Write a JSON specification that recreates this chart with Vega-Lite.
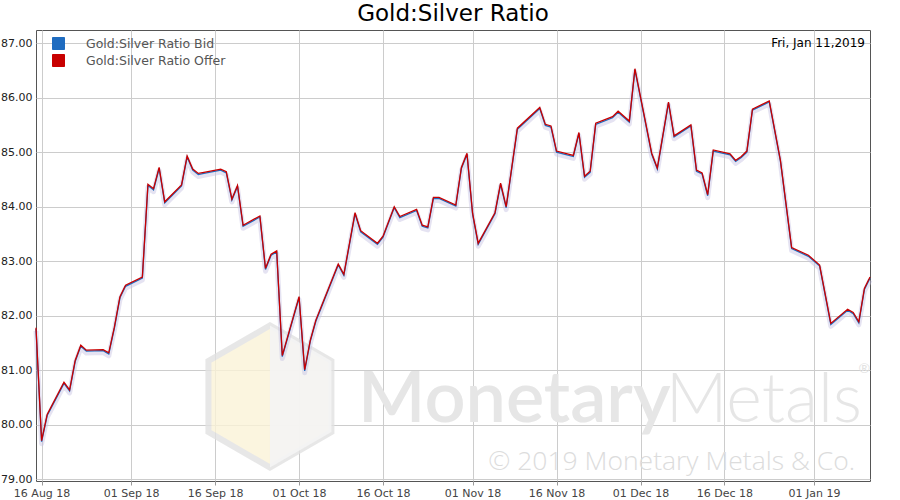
{
  "$schema": "https://vega.github.io/schema/vega-lite/v6.json",
  "width": 834,
  "height": 451,
  "autosize": {"type": "none"},
  "padding": {"left": 36, "top": 30, "right": 30, "bottom": 19},
  "background": "white",
  "title": {"text": "Gold:Silver Ratio", "fontSize": 23, "font": "DejaVu Sans", "fontWeight": "normal", "color": "#000000", "anchor": "middle", "offset": 4},
  "config": {"view": {"stroke": "#555555", "strokeWidth": 1}, "font": "DejaVu Sans"},
  "data": {"values": [
    {"date": "2018-08-15", "Bid": 81.76, "Offer": 81.78},
    {"date": "2018-08-16", "Bid": 79.69, "Offer": 79.71},
    {"date": "2018-08-17", "Bid": 80.17, "Offer": 80.19},
    {"date": "2018-08-20", "Bid": 80.76, "Offer": 80.78},
    {"date": "2018-08-21", "Bid": 80.62, "Offer": 80.64},
    {"date": "2018-08-22", "Bid": 81.16, "Offer": 81.18},
    {"date": "2018-08-23", "Bid": 81.44, "Offer": 81.46},
    {"date": "2018-08-24", "Bid": 81.35, "Offer": 81.37},
    {"date": "2018-08-27", "Bid": 81.36, "Offer": 81.38},
    {"date": "2018-08-28", "Bid": 81.30, "Offer": 81.32},
    {"date": "2018-08-29", "Bid": 81.77, "Offer": 81.79},
    {"date": "2018-08-30", "Bid": 82.33, "Offer": 82.35},
    {"date": "2018-08-31", "Bid": 82.54, "Offer": 82.56},
    {"date": "2018-09-03", "Bid": 82.69, "Offer": 82.71},
    {"date": "2018-09-04", "Bid": 84.39, "Offer": 84.41},
    {"date": "2018-09-05", "Bid": 84.31, "Offer": 84.33},
    {"date": "2018-09-06", "Bid": 84.70, "Offer": 84.72},
    {"date": "2018-09-07", "Bid": 84.07, "Offer": 84.09},
    {"date": "2018-09-10", "Bid": 84.38, "Offer": 84.40},
    {"date": "2018-09-11", "Bid": 84.91, "Offer": 84.93},
    {"date": "2018-09-12", "Bid": 84.67, "Offer": 84.69},
    {"date": "2018-09-13", "Bid": 84.59, "Offer": 84.61},
    {"date": "2018-09-14", "Bid": 84.61, "Offer": 84.63},
    {"date": "2018-09-17", "Bid": 84.67, "Offer": 84.69},
    {"date": "2018-09-18", "Bid": 84.62, "Offer": 84.64},
    {"date": "2018-09-19", "Bid": 84.12, "Offer": 84.14},
    {"date": "2018-09-20", "Bid": 84.37, "Offer": 84.39},
    {"date": "2018-09-21", "Bid": 83.64, "Offer": 83.66},
    {"date": "2018-09-24", "Bid": 83.81, "Offer": 83.83},
    {"date": "2018-09-25", "Bid": 82.85, "Offer": 82.87},
    {"date": "2018-09-26", "Bid": 83.11, "Offer": 83.13},
    {"date": "2018-09-27", "Bid": 83.17, "Offer": 83.19},
    {"date": "2018-09-28", "Bid": 81.25, "Offer": 81.27},
    {"date": "2018-10-01", "Bid": 82.33, "Offer": 82.35},
    {"date": "2018-10-02", "Bid": 80.99, "Offer": 81.01},
    {"date": "2018-10-03", "Bid": 81.53, "Offer": 81.55},
    {"date": "2018-10-04", "Bid": 81.90, "Offer": 81.92},
    {"date": "2018-10-08", "Bid": 82.93, "Offer": 82.95},
    {"date": "2018-10-09", "Bid": 82.74, "Offer": 82.76},
    {"date": "2018-10-11", "Bid": 83.87, "Offer": 83.89},
    {"date": "2018-10-12", "Bid": 83.54, "Offer": 83.56},
    {"date": "2018-10-15", "Bid": 83.31, "Offer": 83.33},
    {"date": "2018-10-16", "Bid": 83.44, "Offer": 83.46},
    {"date": "2018-10-18", "Bid": 83.98, "Offer": 84.00},
    {"date": "2018-10-19", "Bid": 83.80, "Offer": 83.82},
    {"date": "2018-10-22", "Bid": 83.93, "Offer": 83.95},
    {"date": "2018-10-23", "Bid": 83.64, "Offer": 83.66},
    {"date": "2018-10-24", "Bid": 83.61, "Offer": 83.63},
    {"date": "2018-10-25", "Bid": 84.15, "Offer": 84.17},
    {"date": "2018-10-26", "Bid": 84.15, "Offer": 84.17},
    {"date": "2018-10-29", "Bid": 84.01, "Offer": 84.03},
    {"date": "2018-10-30", "Bid": 84.70, "Offer": 84.72},
    {"date": "2018-10-31", "Bid": 84.96, "Offer": 84.98},
    {"date": "2018-11-01", "Bid": 83.86, "Offer": 83.88},
    {"date": "2018-11-02", "Bid": 83.31, "Offer": 83.33},
    {"date": "2018-11-05", "Bid": 83.87, "Offer": 83.89},
    {"date": "2018-11-06", "Bid": 84.41, "Offer": 84.43},
    {"date": "2018-11-07", "Bid": 83.98, "Offer": 84.00},
    {"date": "2018-11-09", "Bid": 85.42, "Offer": 85.44},
    {"date": "2018-11-13", "Bid": 85.80, "Offer": 85.82},
    {"date": "2018-11-14", "Bid": 85.49, "Offer": 85.51},
    {"date": "2018-11-15", "Bid": 85.46, "Offer": 85.48},
    {"date": "2018-11-16", "Bid": 85.00, "Offer": 85.02},
    {"date": "2018-11-19", "Bid": 84.92, "Offer": 84.94},
    {"date": "2018-11-20", "Bid": 85.34, "Offer": 85.36},
    {"date": "2018-11-21", "Bid": 84.54, "Offer": 84.56},
    {"date": "2018-11-22", "Bid": 84.63, "Offer": 84.65},
    {"date": "2018-11-23", "Bid": 85.51, "Offer": 85.53},
    {"date": "2018-11-26", "Bid": 85.63, "Offer": 85.65},
    {"date": "2018-11-27", "Bid": 85.73, "Offer": 85.75},
    {"date": "2018-11-29", "Bid": 85.55, "Offer": 85.57},
    {"date": "2018-11-30", "Bid": 86.51, "Offer": 86.53},
    {"date": "2018-12-03", "Bid": 84.96, "Offer": 84.98},
    {"date": "2018-12-04", "Bid": 84.69, "Offer": 84.71},
    {"date": "2018-12-06", "Bid": 85.90, "Offer": 85.92},
    {"date": "2018-12-07", "Bid": 85.28, "Offer": 85.30},
    {"date": "2018-12-10", "Bid": 85.48, "Offer": 85.50},
    {"date": "2018-12-11", "Bid": 84.65, "Offer": 84.67},
    {"date": "2018-12-12", "Bid": 84.60, "Offer": 84.62},
    {"date": "2018-12-13", "Bid": 84.20, "Offer": 84.22},
    {"date": "2018-12-14", "Bid": 85.02, "Offer": 85.04},
    {"date": "2018-12-17", "Bid": 84.95, "Offer": 84.97},
    {"date": "2018-12-18", "Bid": 84.83, "Offer": 84.85},
    {"date": "2018-12-19", "Bid": 84.90, "Offer": 84.92},
    {"date": "2018-12-20", "Bid": 85.00, "Offer": 85.02},
    {"date": "2018-12-21", "Bid": 85.77, "Offer": 85.79},
    {"date": "2018-12-24", "Bid": 85.92, "Offer": 85.94},
    {"date": "2018-12-26", "Bid": 84.83, "Offer": 84.85},
    {"date": "2018-12-28", "Bid": 83.23, "Offer": 83.25},
    {"date": "2018-12-31", "Bid": 83.09, "Offer": 83.11},
    {"date": "2019-01-02", "Bid": 82.91, "Offer": 82.93},
    {"date": "2019-01-04", "Bid": 81.84, "Offer": 81.86},
    {"date": "2019-01-07", "Bid": 82.10, "Offer": 82.12},
    {"date": "2019-01-08", "Bid": 82.04, "Offer": 82.06},
    {"date": "2019-01-09", "Bid": 81.87, "Offer": 81.89},
    {"date": "2019-01-10", "Bid": 82.48, "Offer": 82.50},
    {"date": "2019-01-11", "Bid": 82.69, "Offer": 82.71}
  ]},
  "layer": [
    {
      "data": {"values": [{}]},
      "mark": {"type": "point", "shape": "M0,-1L0.866,-0.5L0.866,0.5L0,1L-0.866,0.5L-0.866,-0.5Z", "size": 20164, "filled": true, "color": "#fbf3d8", "stroke": "#e2e2e2", "strokeWidth": 6, "opacity": 0.8},
      "encoding": {
        "x": {"datum": {"year": 2018, "month": "sep", "date": 25, "hours": 19, "utc": true}, "type": "temporal", "scale": {"type": "utc", "nice": false, "domain": [{"year": 2018, "month": "aug", "date": 15, "utc": true}, {"year": 2019, "month": "jan", "date": 11, "utc": true}]}, "title": null},
        "y": {"datum": 80.52, "type": "quantitative", "scale": {"domain": [78.97, 87.24], "nice": false, "zero": false}, "title": null}
      }
    },
    {
      "data": {"values": [{}]},
      "mark": {"type": "point", "shape": "M0,-1L0.866,-0.5L0.866,0.5L0,1Z", "size": 20164, "filled": true, "color": "#f4f4f4", "opacity": 0.9},
      "encoding": {
        "x": {"datum": {"year": 2018, "month": "sep", "date": 25, "hours": 19, "utc": true}, "type": "temporal", "scale": {"type": "utc", "nice": false, "domain": [{"year": 2018, "month": "aug", "date": 15, "utc": true}, {"year": 2019, "month": "jan", "date": 11, "utc": true}]}, "title": null},
        "y": {"datum": 80.52, "type": "quantitative", "scale": {"domain": [78.97, 87.24], "nice": false, "zero": false}, "title": null}
      }
    },
    {
      "data": {"values": [{}]},
      "mark": {"type": "text", "text": "Monetary", "font": "Lato", "fontSize": 72, "fontWeight": 600, "color": "#e6e6e6", "align": "left", "baseline": "alphabetic"},
      "encoding": {
        "x": {"datum": {"year": 2018, "month": "oct", "date": 11, "hours": 13, "utc": true}, "type": "temporal", "scale": {"type": "utc", "nice": false, "domain": [{"year": 2018, "month": "aug", "date": 15, "utc": true}, {"year": 2019, "month": "jan", "date": 11, "utc": true}]}, "title": null},
        "y": {"datum": 80.06, "type": "quantitative", "scale": {"domain": [78.97, 87.24], "nice": false, "zero": false}, "title": null}
      }
    },
    {
      "data": {"values": [{}]},
      "mark": {"type": "text", "text": "Metals", "font": "Lato", "fontSize": 68, "fontWeight": 300, "color": "#e6e6e6", "align": "left", "baseline": "alphabetic"},
      "encoding": {
        "x": {"datum": {"year": 2018, "month": "dec", "date": 5, "hours": 12, "utc": true}, "type": "temporal", "scale": {"type": "utc", "nice": false, "domain": [{"year": 2018, "month": "aug", "date": 15, "utc": true}, {"year": 2019, "month": "jan", "date": 11, "utc": true}]}, "title": null},
        "y": {"datum": 80.06, "type": "quantitative", "scale": {"domain": [78.97, 87.24], "nice": false, "zero": false}, "title": null}
      }
    },
    {
      "data": {"values": [{}]},
      "mark": {"type": "text", "text": "®", "font": "Lato", "fontSize": 14, "color": "#e2e2e2", "align": "center", "baseline": "middle"},
      "encoding": {
        "x": {"datum": {"year": 2019, "month": "jan", "date": 10, "utc": true}, "type": "temporal", "scale": {"type": "utc", "nice": false, "domain": [{"year": 2018, "month": "aug", "date": 15, "utc": true}, {"year": 2019, "month": "jan", "date": 11, "utc": true}]}, "title": null},
        "y": {"datum": 81.02, "type": "quantitative", "scale": {"domain": [78.97, 87.24], "nice": false, "zero": false}, "title": null}
      }
    },
    {
      "data": {"values": [{}]},
      "mark": {"type": "text", "text": "© 2019 Monetary Metals & Co.", "font": "Open Sans", "fontSize": 26.5, "fontWeight": 300, "color": "#dcdcdc", "align": "left", "baseline": "alphabetic"},
      "encoding": {
        "x": {"datum": {"year": 2018, "month": "nov", "date": 3, "hours": 19, "utc": true}, "type": "temporal", "scale": {"type": "utc", "nice": false, "domain": [{"year": 2018, "month": "aug", "date": 15, "utc": true}, {"year": 2019, "month": "jan", "date": 11, "utc": true}]}, "title": null},
        "y": {"datum": 79.17, "type": "quantitative", "scale": {"domain": [78.97, 87.24], "nice": false, "zero": false}, "title": null}
      }
    },
    {
      "mark": {"type": "line", "stroke": "#c6c0e2", "strokeWidth": 5, "opacity": 0.45, "yOffset": 3, "strokeJoin": "round"},
      "encoding": {
        "x": {"field": "date", "type": "temporal", "scale": {"type": "utc", "nice": false, "domain": [{"year": 2018, "month": "aug", "date": 15, "utc": true}, {"year": 2019, "month": "jan", "date": 11, "utc": true}]}, "title": null},
        "y": {"field": "Offer", "type": "quantitative", "scale": {"domain": [78.97, 87.24], "nice": false, "zero": false}, "title": null}
      }
    },
    {
      "transform": [{"fold": ["Bid", "Offer"], "as": ["series", "value"]}],
      "mark": {"type": "line", "strokeWidth": 1.3},
      "encoding": {
        "x": {
          "field": "date", "type": "temporal",
          "scale": {"type": "utc", "nice": false, "domain": [{"year": 2018, "month": "aug", "date": 15, "utc": true}, {"year": 2019, "month": "jan", "date": 11, "utc": true}]},
          "title": null,
          "axis": {
            "values": [
              {"year": 2018, "month": "aug", "date": 16, "utc": true},
              {"year": 2018, "month": "sep", "date": 1, "utc": true},
              {"year": 2018, "month": "sep", "date": 16, "utc": true},
              {"year": 2018, "month": "oct", "date": 1, "utc": true},
              {"year": 2018, "month": "oct", "date": 16, "utc": true},
              {"year": 2018, "month": "nov", "date": 1, "utc": true},
              {"year": 2018, "month": "nov", "date": 16, "utc": true},
              {"year": 2018, "month": "dec", "date": 1, "utc": true},
              {"year": 2018, "month": "dec", "date": 16, "utc": true},
              {"year": 2019, "month": "jan", "date": 1, "utc": true}
            ],
            "labelExpr": "utcFormat(datum.value, '%d %b %y')",
            "grid": true, "gridColor": "#cccccc", "domain": false,
            "ticks": true, "tickColor": "#999999", "tickSize": 4,
            "labelFont": "DejaVu Sans", "labelFontSize": 11, "labelColor": "#444444", "labelPadding": 2, "labelFlush": false, "labelOverlap": false
          }
        },
        "y": {
          "field": "value", "type": "quantitative",
          "scale": {"domain": [78.97, 87.24], "nice": false, "zero": false},
          "title": null,
          "axis": {
            "values": [79, 80, 81, 82, 83, 84, 85, 86, 87],
            "format": ".2f", "grid": true, "gridColor": "#cccccc", "domain": false, "ticks": false,
            "labelFont": "DejaVu Sans", "labelFontSize": 11, "labelColor": "#222222", "labelPadding": 4
          }
        },
        "color": {
          "field": "series", "type": "nominal",
          "scale": {"domain": ["Bid", "Offer"], "range": ["#1f6cc0", "#c80000"]},
          "legend": {
            "orient": "none", "legendX": 16, "legendY": 7, "title": null,
            "symbolType": "square", "symbolSize": 144, "padding": 0, "rowPadding": 0,
            "labelFont": "DejaVu Sans", "labelFontSize": 12.5, "labelColor": "#555555", "labelOffset": 21,
            "labelExpr": "'Gold:Silver Ratio ' + datum.label",
            "encode": {"symbols": {"update": {"fill": {"scale": "color", "field": "value"}, "stroke": {"value": "#bbbbbb"}, "strokeWidth": {"value": 1}, "opacity": {"value": 1}}}}
          }
        }
      }
    },
    {
      "data": {"values": [{}]},
      "mark": {"type": "text", "text": "Fri, Jan 11,2019", "font": "DejaVu Sans", "fontSize": 12, "color": "#000000", "align": "right", "baseline": "middle", "dx": -5},
      "encoding": {
        "x": {"datum": {"year": 2019, "month": "jan", "date": 11, "utc": true}, "type": "temporal", "scale": {"type": "utc", "nice": false, "domain": [{"year": 2018, "month": "aug", "date": 15, "utc": true}, {"year": 2019, "month": "jan", "date": 11, "utc": true}]}, "title": null},
        "y": {"datum": 87, "type": "quantitative", "scale": {"domain": [78.97, 87.24], "nice": false, "zero": false}, "title": null}
      }
    }
  ]
}
